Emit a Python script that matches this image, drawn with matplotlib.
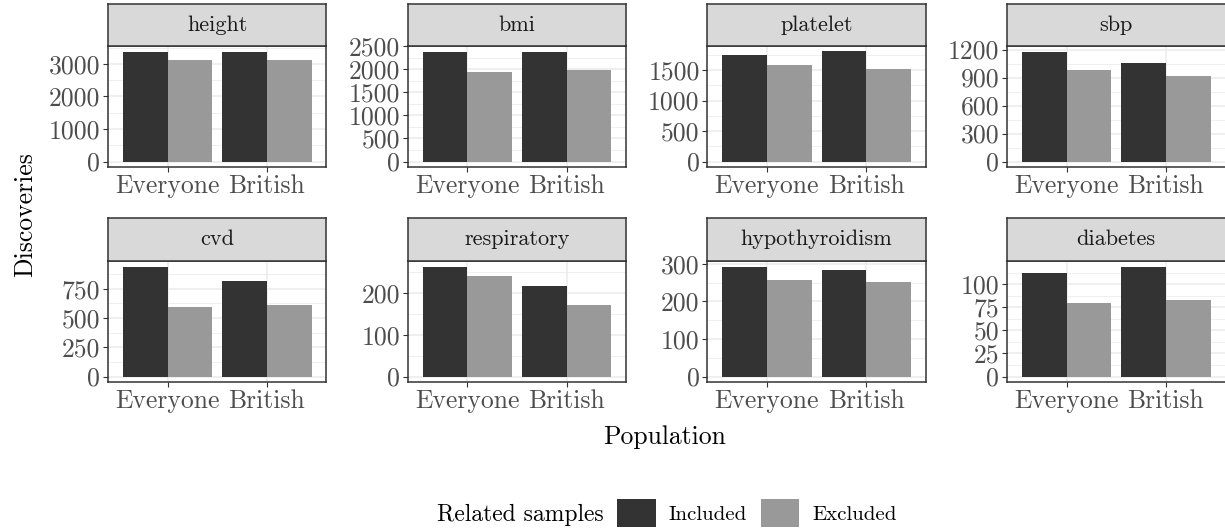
import matplotlib
matplotlib.use("Agg")
import matplotlib.pyplot as plt
from matplotlib.patches import Patch
import numpy as np

plt.rcParams["font.family"] = "cmr10"
plt.rcParams["axes.formatter.use_mathtext"] = True

# discoveries per trait, (Everyone, British)
traits = ["height", "bmi", "platelet", "sbp",
          "cvd", "respiratory", "hypothyroidism", "diabetes"]
populations = ["Everyone", "British"]
included = {
    "height": [3354, 3384],
    "bmi": [2386, 2386],
    "platelet": [1739, 1804],
    "sbp": [1179, 1051],
    "cvd": [941, 813],
    "respiratory": [263, 217],
    "hypothyroidism": [293, 285],
    "diabetes": [112, 119],
}
excluded = {
    "height": [3131, 3131],
    "bmi": [1940, 1983],
    "platelet": [1576, 1511],
    "sbp": [976, 913],
    "cvd": [591, 608],
    "respiratory": [241, 172],
    "hypothyroidism": [256, 253],
    "diabetes": [79, 83],
}
y_ticks = {
    "height": [0, 1000, 2000, 3000],
    "bmi": [0, 500, 1000, 1500, 2000, 2500],
    "platelet": [0, 500, 1000, 1500],
    "sbp": [0, 300, 600, 900, 1200],
    "cvd": [0, 250, 500, 750],
    "respiratory": [0, 100, 200],
    "hypothyroidism": [0, 100, 200, 300],
    "diabetes": [0, 25, 50, 75, 100],
}
group_names = ["Included", "Excluded"]

C_INC = "#333333"
C_EXC = "#999999"
C_BORDER = "#333333"
C_GRID = "#EBEBEB"
C_TICKTXT = "#4D4D4D"

W, H = 1225, 531
fig = plt.figure(figsize=(W / 100, H / 100), dpi=100)


def box(left, top, right, bottom):
    return [left / W, 1 - bottom / H, (right - left) / W, (bottom - top) / H]


col_left = [108, 407.7, 707.3, 1007]
panel_w = 218.5
rows = [(4, 46, 167), (218, 261, 382)]  # strip top, panel top, panel bottom

x = np.arange(1, len(populations) + 1)
bw = 0.45

for i, trait in enumerate(traits):
    r, c = divmod(i, 4)
    s_top, p_top, p_bot = rows[r]
    left = col_left[c]
    ax = fig.add_axes(box(left, p_top, left + panel_w, p_bot))
    ax.bar(x - bw / 2, included[trait], width=bw, color=C_INC, zorder=3)
    ax.bar(x + bw / 2, excluded[trait], width=bw, color=C_EXC, zorder=3)

    ymax = max(max(included[trait]), max(excluded[trait]))
    ax.set_ylim(-0.05 * ymax, 1.05 * ymax)
    ax.set_xlim(0.4, 2.6)

    ticks = y_ticks[trait]
    step = ticks[1] - ticks[0]
    ax.set_yticks(ticks)
    ax.set_yticklabels([str(t) for t in ticks])
    ax.set_yticks(np.arange(ticks[0] + step / 2, 1.05 * ymax, step), minor=True)
    ax.set_xticks(x)
    ax.set_xticklabels(populations)

    ax.grid(True, which="major", color=C_GRID, lw=1.1, zorder=0)
    ax.grid(True, which="minor", axis="y", color=C_GRID, lw=0.55, zorder=0)
    ax.tick_params(which="major", length=3.5, width=0.8, color=C_BORDER,
                   labelsize=18.5, labelcolor=C_TICKTXT, pad=2)
    ax.tick_params(which="minor", length=0)
    for sp in ax.spines.values():
        sp.set_color(C_BORDER)
        sp.set_linewidth(1.1)

    # facet strip
    sax = fig.add_axes(box(left, s_top, left + panel_w, p_top))
    sax.set_facecolor("#D9D9D9")
    sax.set_xticks([])
    sax.set_yticks([])
    for sp in sax.spines.values():
        sp.set_color(C_BORDER)
        sp.set_linewidth(1.1)
    sax.text(0.5, 0.5, trait, ha="center", va="center", fontsize=16,
             color="#1A1A1A", transform=sax.transAxes)

fig.text(665 / W, 1 - 437 / H, "Population", ha="center", va="center",
         fontsize=18.5)
fig.text(25 / W, 1 - 215 / H, "Discoveries", ha="center", va="center",
         fontsize=18.5, rotation=90)

# legend along the bottom
fig.text(604 / W, 1 - 515 / H, "Related samples", ha="right", va="center",
         fontsize=17)
handles = [Patch(facecolor=C_INC, edgecolor="none"),
           Patch(facecolor=C_EXC, edgecolor="none")]
fig.legend(handles, group_names, loc="center left",
           bbox_to_anchor=(617 / W, 1 - 513 / H), ncol=2, frameon=False,
           fontsize=15, handlelength=1.85, handleheight=1.75,
           handletextpad=0.6, columnspacing=0.7, borderpad=0,
           borderaxespad=0)

fig.savefig("out.png", dpi=100)
